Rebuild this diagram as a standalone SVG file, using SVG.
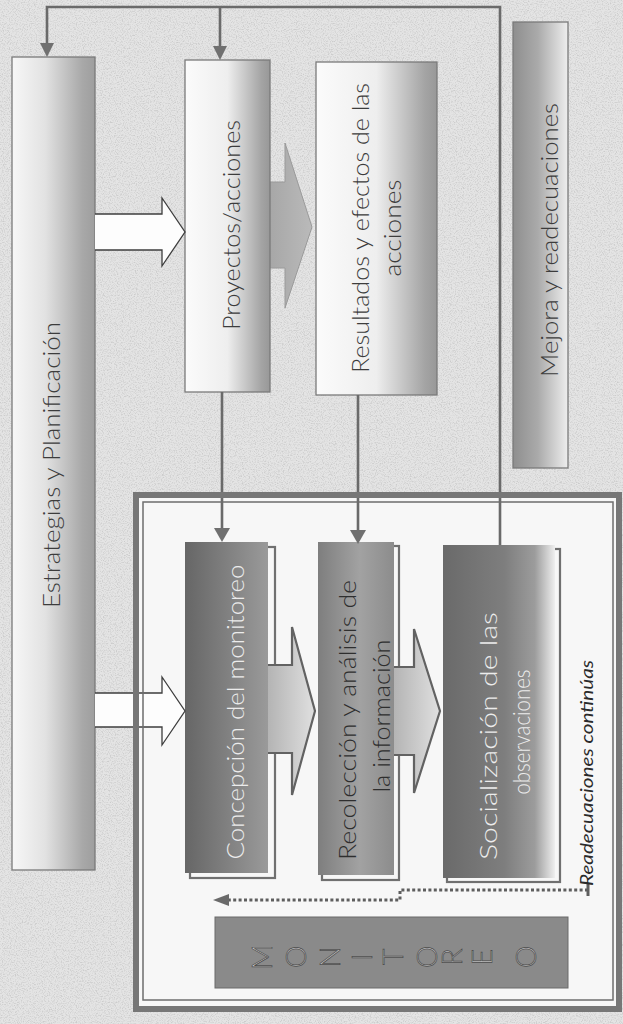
<svg xmlns="http://www.w3.org/2000/svg" width="623" height="1024" viewBox="0 0 623 1024">
<defs>
<style>
.lbl{font-family:Lato,"Open Sans","DejaVu Sans",sans-serif;font-weight:300;font-size:24px;text-anchor:middle;}
.dk{fill:#3c3c3c;}
.lt{fill:#ececec;}
.mid{fill:#2e2e2e;}
.box{stroke:#7a7a7a;stroke-width:1.3;}
.shadow{fill:none;stroke:#707070;stroke-width:2.2;}
.conn{fill:none;stroke:#6a6a6a;stroke-width:2.6;}
.head{fill:#707070;}
.hollow{fill:#fdfdfd;stroke:#3e3e3e;stroke-width:1.3;stroke-linejoin:miter;}
.garrow{stroke:#626262;stroke-width:2.2;}
.dots{fill:none;stroke:#5e5e5e;stroke-width:3;stroke-dasharray:3 2.4;}
.mon{font-family:Lato,"Open Sans","DejaVu Sans",sans-serif;font-weight:300;font-size:28px;text-anchor:middle;fill:#c8c8c8;stroke:#4a4a4a;stroke-width:0.7;}
</style>
<linearGradient id="gLight" x1="0" y1="0" x2="1" y2="0">
<stop offset="0" stop-color="#f7f7f7"/><stop offset="0.4" stop-color="#e2e2e2"/><stop offset="0.85" stop-color="#a8a8a8"/><stop offset="1" stop-color="#9e9e9e"/>
</linearGradient>
<linearGradient id="gProy" x1="0" y1="0" x2="1" y2="0">
<stop offset="0" stop-color="#fbfbfb"/><stop offset="0.5" stop-color="#eeeeee"/><stop offset="0.9" stop-color="#a4a4a4"/><stop offset="1" stop-color="#989898"/>
</linearGradient>
<linearGradient id="gMej" x1="0" y1="0" x2="1" y2="0">
<stop offset="0" stop-color="#8e8e8e"/><stop offset="0.45" stop-color="#aaaaaa"/><stop offset="1" stop-color="#eeeeee"/>
</linearGradient>
<linearGradient id="gCon" x1="0" y1="0" x2="1" y2="0">
<stop offset="0" stop-color="#666666"/><stop offset="0.6" stop-color="#858585"/><stop offset="1" stop-color="#9a9a9a"/>
</linearGradient>
<linearGradient id="gRec" x1="0" y1="0" x2="1" y2="0">
<stop offset="0" stop-color="#7e7e7e"/><stop offset="0.55" stop-color="#a2a2a2"/><stop offset="1" stop-color="#8c8c8c"/>
</linearGradient>
<linearGradient id="gSoc" x1="0" y1="0" x2="1" y2="0">
<stop offset="0" stop-color="#6a6a6a"/><stop offset="0.55" stop-color="#7e7e7e"/><stop offset="0.82" stop-color="#9c9c9c"/><stop offset="1" stop-color="#efefef"/>
</linearGradient>
<linearGradient id="gArr" x1="0" y1="0" x2="1" y2="0">
<stop offset="0" stop-color="#b4b4b4"/><stop offset="1" stop-color="#e0e0e0"/>
</linearGradient>
<linearGradient id="gArrTop" x1="0" y1="0" x2="1" y2="0">
<stop offset="0" stop-color="#a6a6a6"/><stop offset="1" stop-color="#bababa"/>
</linearGradient>
<filter id="noise" x="0" y="0" width="100%" height="100%">
<feTurbulence type="fractalNoise" baseFrequency="0.85" numOctaves="2" seed="7"/>
<feColorMatrix type="matrix" values="0 0 0 0 0.35  0 0 0 0 0.35  0 0 0 0 0.35  3 0 0 0 -1.35"/>
</filter>
</defs>

<!-- background -->
<rect x="0" y="0" width="623" height="1024" fill="#e4e4e4"/>
<rect x="0" y="0" width="623" height="1024" filter="url(#noise)" opacity="0.35"/>
<rect x="133" y="492" width="489" height="520" fill="#f7f7f7"/>

<g id="connectors">
<path d="M268,182 H285 V143 L312,227 L285,308 V268 H268" fill="url(#gArrTop)" stroke="#9a9a9a" stroke-width="1"/>
</g>

<g id="node-estrategias">
<rect class="box" x="12" y="57" width="83" height="813" fill="url(#gLight)"/>
<text class="lbl dk" transform="translate(60,465) rotate(-90)" textLength="286" lengthAdjust="spacingAndGlyphs">Estrategias y Planificación</text>
</g>

<g id="node-proyectos">
<rect class="box" x="185" y="60" width="85" height="332" fill="url(#gProy)"/>
<text class="lbl dk" transform="translate(240,225) rotate(-90)" textLength="210" lengthAdjust="spacingAndGlyphs">Proyectos/acciones</text>
</g>

<g id="node-resultados">
<rect class="box" x="316" y="62" width="121" height="333" fill="url(#gProy)"/>
<text class="lbl dk" transform="translate(369,228) rotate(-90)" textLength="290" lengthAdjust="spacingAndGlyphs">Resultados y efectos de las</text>
<text class="lbl dk" transform="translate(401,228) rotate(-90)" textLength="97" lengthAdjust="spacingAndGlyphs">acciones</text>
</g>

<g id="node-mejora">
<rect class="box" x="513" y="22" width="55" height="446" fill="url(#gMej)"/>
<text class="lbl dk" transform="translate(558,240) rotate(-90)" textLength="274" lengthAdjust="spacingAndGlyphs">Mejora y readecuaciones</text>
</g>

<g id="node-concepcion">
<rect class="shadow" x="190" y="547" width="85" height="331"/>
<path class="garrow" d="M268,665 H292 V627 L315,711 L292,795 V753 H268" fill="url(#gArr)"/>
<rect x="185" y="542" width="83" height="331" fill="url(#gCon)"/>
<text class="lbl lt" transform="translate(244,712) rotate(-90)" textLength="295" lengthAdjust="spacingAndGlyphs">Concepción del monitoreo</text>
</g>

<g id="node-recoleccion">
<rect class="shadow" x="322" y="546" width="77" height="334"/>
<path class="garrow" d="M394,667 H414 V629 L440,711 L414,793 V755 H394" fill="url(#gArr)"/>
<rect x="318" y="542" width="76" height="333" fill="url(#gRec)"/>
<text class="lbl mid" transform="translate(356,720) rotate(-90)" textLength="280" lengthAdjust="spacingAndGlyphs">Recolección y análisis de</text>
<text class="lbl mid" transform="translate(390,716) rotate(-90)" textLength="153" lengthAdjust="spacingAndGlyphs">la información</text>
</g>

<g id="node-socializacion">
<rect class="shadow" x="447" y="549" width="113" height="333"/>
<rect x="443" y="545" width="112" height="333" fill="url(#gSoc)"/>
<text class="lbl lt" transform="translate(497,736) rotate(-90)" textLength="248" lengthAdjust="spacingAndGlyphs">Socialización de las</text>
<text class="lbl lt" transform="translate(530,732) rotate(-90)" textLength="125" lengthAdjust="spacingAndGlyphs">observaciones</text>
</g>

<g id="connectors-lines">
<path class="conn" d="M500,545 V7 H47 V45" stroke="#7c7c7c"/>
<polygon class="head" points="40,43 54,43 47,57"/>
<path class="conn" d="M220,7 V47" stroke="#7c7c7c"/>
<polygon class="head" points="213,46 227,46 220,60"/>
<path class="conn" d="M222,392 V529"/>
<polygon class="head" points="214,528 230,528 222,542"/>
<path class="conn" d="M358,395 V531"/>
<polygon class="head" points="350,530 366,530 358,544"/>
<path class="hollow" d="M95,214 H162 V198 L185,232 L162,266 V250 H95"/>
<path class="hollow" d="M95,693 H162 V677 L185,711 L162,745 V727 H95"/>
<path d="M588,884 V896" stroke="#5e5e5e" stroke-width="3" fill="none"/>
<path class="dots" d="M588,890 H400 V900 H229"/>
<polygon points="213,900 229,894 229,906" fill="#6a6a6a"/>
<text transform="translate(593,773) rotate(-90)" font-family="Lato,'Open Sans','DejaVu Sans',sans-serif" font-style="italic" font-size="17" fill="#2a2a2a" text-anchor="middle" textLength="226" lengthAdjust="spacingAndGlyphs">Readecuaciones continúas</text>
</g>

<g id="node-monitoreo-frame">
<rect x="136" y="495" width="483" height="514" fill="none" stroke="#777" stroke-width="6"/>
<rect x="143" y="502" width="470" height="498" fill="none" stroke="#6e6e6e" stroke-width="1.5"/>
</g>

<g id="node-monitoreo">
<rect x="215" y="917" width="353" height="71" fill="#8a8a8a" stroke="#6a6a6a" stroke-width="1"/>
<text class="mon" transform="translate(272,957) rotate(-90)">M</text>
<text class="mon" transform="translate(306,957) rotate(-90)">O</text>
<text class="mon" transform="translate(340,957) rotate(-90)">N</text>
<text class="mon" transform="translate(372,957) rotate(-90)">I</text>
<text class="mon" transform="translate(403,957) rotate(-90)">T</text>
<text class="mon" transform="translate(437,957) rotate(-90)">O</text>
<text class="mon" transform="translate(462,957) rotate(-90)">R</text>
<text class="mon" transform="translate(492,957) rotate(-90)">E</text>
<text class="mon" transform="translate(536,957) rotate(-90)">O</text>
</g>
</svg>
